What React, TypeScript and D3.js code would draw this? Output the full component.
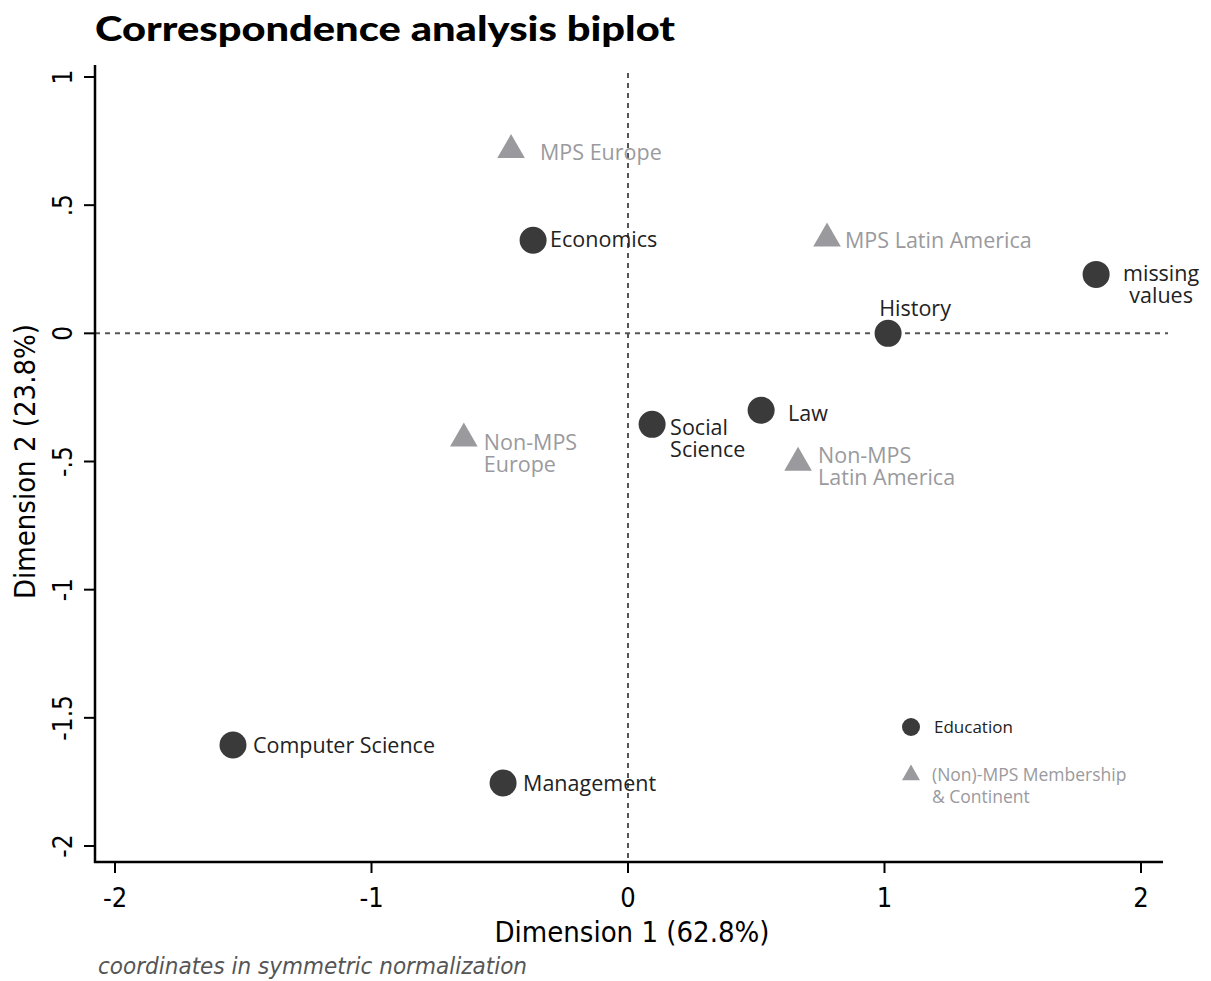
import React from "react";
import * as d3 from "d3";

const W = 1211;
const H = 981;

// Education categories (row points)
const eduNames = ["Economics", "History", "missing values", "Social Science", "Law", "Computer Science", "Management"];
const eduDim1 = [-0.37, 1.014, 1.825, 0.094, 0.519, -1.54, -0.487];
const eduDim2 = [0.363, 0.0, 0.23, -0.355, -0.30, -1.606, -1.754];

// (Non)-MPS membership & continent (column points)
const mpsNames = ["MPS Europe", "MPS Latin America", "Non-MPS Europe", "Non-MPS Latin America"];
const mpsDim1 = [-0.456, 0.776, -0.64, 0.663];
const mpsDim2 = [0.715, 0.37, -0.41, -0.505];

const xTicks = [-2, -1, 0, 1, 2];
const xTickLabels = ["-2", "-1", "0", "1", "2"];
const yTicks = [1, 0.5, 0, -0.5, -1, -1.5, -2];
const yTickLabels = ["1", ".5", "0", "-.5", "-1", "-1.5", "-2"];

const LABEL_FONT = "'Open Sans', 'DejaVu Sans', sans-serif";
const TICK_FONT = "'DejaVu Sans Condensed', 'Liberation Sans Narrow', 'DejaVu Sans', sans-serif";

// label layout: [lines, dx, dy(first baseline), anchor]
const eduLabelLayout: Record<string, { lines: string[]; dx: number; dy: number; anchor: string }> = {
  "Economics": { lines: ["Economics"], dx: 17, dy: 7, anchor: "start" },
  "History": { lines: ["History"], dx: 27, dy: -17, anchor: "middle" },
  "missing values": { lines: ["missing", "values"], dx: 65, dy: 7, anchor: "middle" },
  "Social Science": { lines: ["Social", "Science"], dx: 18, dy: 11, anchor: "start" },
  "Law": { lines: ["Law"], dx: 27, dy: 11, anchor: "start" },
  "Computer Science": { lines: ["Computer Science"], dx: 20, dy: 8, anchor: "start" },
  "Management": { lines: ["Management"], dx: 20, dy: 8, anchor: "start" },
};
const mpsLabelLayout: Record<string, { lines: string[]; dx: number; dy: number; anchor: string }> = {
  "MPS Europe": { lines: ["MPS Europe"], dx: 29, dy: 10, anchor: "start" },
  "MPS Latin America": { lines: ["MPS Latin America"], dx: 18, dy: 10, anchor: "start" },
  "Non-MPS Europe": { lines: ["Non-MPS", "Europe"], dx: 20, dy: 12, anchor: "start" },
  "Non-MPS Latin America": { lines: ["Non-MPS", "Latin America"], dx: 20, dy: 0, anchor: "start" },
};

export default function App() {
  const left = 95;
  const right = 1163;
  const top = 65;
  const bottom = 862;
  const x = d3.scaleLinear().domain([-2, 2]).range([115, 1141]);
  const y = d3.scaleLinear().domain([-2, 1]).range([846, 77]);
  const tri = d3.symbol().type(d3.symbolTriangle).size(330)();
  const triSmall = d3.symbol().type(d3.symbolTriangle).size(140)();
  const dark = "#3a3a3a";
  const grey = "#9a9a9e";
  const lblSize = 21.5;

  return (
    <div style={{ position: "absolute", left: 0, top: 0 }}>
      <svg width={W} height={H} style={{ display: "block", background: "#fff" }}>
        <text x={95} y={41} fontFamily="Lato, 'Noto Sans', sans-serif" fontWeight={900} fontSize={34} fill="#000"
          textLength={580} lengthAdjust="spacingAndGlyphs">
          Correspondence analysis biplot
        </text>

        {/* reference lines */}
        <line x1={x(0)} x2={x(0)} y1={top + 8} y2={bottom} stroke="#555" strokeWidth={2} strokeDasharray="5,5" />
        <line x1={left} x2={1168} y1={y(0)} y2={y(0)} stroke="#555" strokeWidth={2} strokeDasharray="5,5" />

        {/* axes */}
        <line x1={left} x2={left} y1={top} y2={bottom + 1} stroke="#000" strokeWidth={2.5} />
        <line x1={left - 1} x2={right} y1={bottom} y2={bottom} stroke="#000" strokeWidth={2.5} />
        {yTicks.map((t, i) => (
          <g key={"y" + i}>
            <line x1={left - 11} x2={left} y1={y(t)} y2={y(t)} stroke="#000" strokeWidth={2} />
            <text transform={`translate(${left - 23},${y(t)}) rotate(-90)`} textAnchor="middle"
              fontFamily={TICK_FONT} fontSize={26} fill="#000">{yTickLabels[i]}</text>
          </g>
        ))}
        {xTicks.map((t, i) => (
          <g key={"x" + i}>
            <line x1={x(t)} x2={x(t)} y1={bottom} y2={bottom + 11} stroke="#000" strokeWidth={2} />
            <text x={x(t)} y={907} textAnchor="middle" fontFamily={TICK_FONT} fontSize={27} fill="#000">{xTickLabels[i]}</text>
          </g>
        ))}
        <text x={x(0) + 4} y={942} textAnchor="middle" fontFamily={TICK_FONT} fontSize={29} fill="#000">Dimension 1 (62.8%)</text>
        <text transform={`translate(35,${y(-0.5)}) rotate(-90)`} textAnchor="middle" fontFamily={TICK_FONT} fontSize={29} fill="#000">Dimension 2 (23.8%)</text>
        <text x={98} y={974} fontFamily={TICK_FONT} fontStyle="italic" fontSize={23} fill="#555"
          textLength={429} lengthAdjust="spacingAndGlyphs">coordinates in symmetric normalization</text>

        {/* triangles */}
        {mpsNames.map((n, i) => {
          const L = mpsLabelLayout[n];
          const px = x(mpsDim1[i]);
          const py = y(mpsDim2[i]);
          return (
            <g key={n}>
              <path d={tri!} transform={`translate(${px},${py})`} fill={grey} />
              <text x={px + L.dx} y={py + L.dy} textAnchor={L.anchor} fontFamily={LABEL_FONT} fontSize={lblSize} fill={grey}>
                {L.lines.map((s, j) => (
                  <tspan key={j} x={px + L.dx} dy={j === 0 ? 0 : 22}>{s}</tspan>
                ))}
              </text>
            </g>
          );
        })}

        {/* circles */}
        {eduNames.map((n, i) => {
          const L = eduLabelLayout[n];
          const px = x(eduDim1[i]);
          const py = y(eduDim2[i]);
          return (
            <g key={n}>
              <circle cx={px} cy={py} r={13.5} fill={dark} />
              <text x={px + L.dx} y={py + L.dy} textAnchor={L.anchor} fontFamily={LABEL_FONT} fontSize={lblSize} fill="#222">
                {L.lines.map((s, j) => (
                  <tspan key={j} x={px + L.dx} dy={j === 0 ? 0 : 22}>{s}</tspan>
                ))}
              </text>
            </g>
          );
        })}

        {/* legend */}
        <circle cx={911} cy={727} r={9} fill={dark} />
        <text x={934} y={733} fontFamily={LABEL_FONT} fontSize={17} fill="#222">Education</text>
        <path d={triSmall!} transform="translate(911,775)" fill={grey} />
        <text x={932} y={781} fontFamily={LABEL_FONT} fontSize={17.5} fill={grey}>
          <tspan x={932}>(Non)-MPS Membership</tspan>
          <tspan x={932} dy={22}>&amp; Continent</tspan>
        </text>
      </svg>
    </div>
  );
}
